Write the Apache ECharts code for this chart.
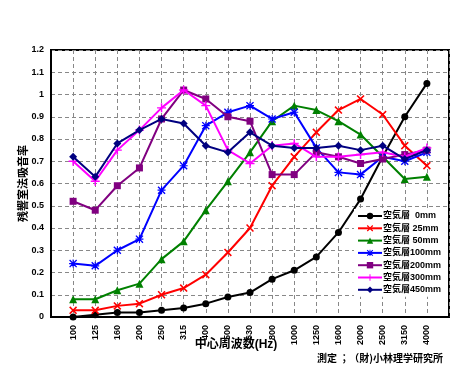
<!DOCTYPE html>
<html><head><meta charset="utf-8">
<script src="https://cdn.jsdelivr.net/npm/echarts@6/dist/echarts.min.js"></script>
<style>html,body{margin:0;padding:0;background:#fff}#c{width:473px;height:370px}</style>
</head><body><div id="c"></div>
<script>
const categories = ['100','125','160','200','250','315','400','500','630','800','1000','1250','1600','2000','2500','3150','4000'];
const mm0   = [0, 0.01, 0.02, 0.02, 0.03, 0.04, 0.06, 0.09, 0.11, 0.17, 0.21, 0.27, 0.38, 0.53, 0.72, 0.90, 1.05];
const mm25  = [0.03, 0.03, 0.05, 0.06, 0.10, 0.13, 0.19, 0.29, 0.40, 0.59, 0.72, 0.83, 0.93, 0.98, 0.91, 0.77, 0.68];
const mm50  = [0.08, 0.08, 0.12, 0.15, 0.26, 0.34, 0.48, 0.61, 0.74, 0.88, 0.95, 0.93, 0.88, 0.82, 0.72, 0.62, 0.63];
const mm100 = [0.24, 0.23, 0.30, 0.35, 0.57, 0.68, 0.86, 0.92, 0.95, 0.89, 0.92, 0.76, 0.65, 0.64, 0.72, 0.70, 0.74];
const mm200 = [0.52, 0.48, 0.59, 0.67, 0.89, 1.02, 0.98, 0.90, 0.88, 0.64, 0.64, 0.74, 0.72, 0.69, 0.71, 0.73, 0.75];
const mm300 = [0.70, 0.61, 0.75, 0.84, 0.94, 1.02, 0.95, 0.75, 0.69, 0.77, 0.78, 0.72, 0.72, 0.73, 0.74, 0.72, 0.76];
const mm450 = [0.72, 0.63, 0.78, 0.84, 0.89, 0.87, 0.77, 0.74, 0.83, 0.77, 0.76, 0.76, 0.77, 0.75, 0.77, 0.71, 0.75];
const seriesNames = ['空気層  0mm','空気層 25mm','空気層 50mm','空気層100mm','空気層200mm','空気層300mm','空気層450mm'];

const CJK = '"Noto Sans CJK JP", "Liberation Sans", sans-serif';
const MIX = '"Liberation Sans", "Noto Sans CJK JP", sans-serif';
const LAT = '"Liberation Sans", Arial, sans-serif';
const X_SYM = 'path://M0,1.4L1.4,0L5,3.6L8.6,0L10,1.4L6.4,5L10,8.6L8.6,10L5,6.4L1.4,10L0,8.6L3.6,5Z';
const PLUS_SYM = 'path://M4.2,0H5.8V4.2H10V5.8H5.8V10H4.2V5.8H0V4.2H4.2Z';
const AST_SYM = 'path://M0,1.2L1.2,0L5,3.8L8.8,0L10,1.2L6.2,5L10,8.8L8.8,10L5,6.2L1.2,10L0,8.8L3.8,5Z M4.3,0H5.7V4.3H10V5.7H5.7V10H4.3V5.7H0V4.3H4.3Z';

const axisCats = [''].concat(categories, ['']);
function pad(arr){ return ['-'].concat(arr, ['-']); }

const defs = [
  {data: mm0,   color: '#000000', symbol: 'circle',  size: 7},
  {data: mm25,  color: '#ff0000', symbol: X_SYM,     size: 8},
  {data: mm50,  color: '#008000', symbol: 'triangle',size: 8},
  {data: mm100, color: '#0000ff', symbol: AST_SYM,   size: 8},
  {data: mm200, color: '#800080', symbol: 'rect',    size: 7},
  {data: mm300, color: '#ff00ff', symbol: PLUS_SYM,  size: 9},
  {data: mm450, color: '#000080', symbol: 'diamond', size: 8}
];

const chart = echarts.init(document.getElementById('c'), null, {renderer: 'canvas'});
chart.setOption({
  animation: false,
  backgroundColor: '#fff',
  grid: {left: 51, right: 24, top: 50, bottom: 53, show: true, borderColor: '#000', borderWidth: 2, backgroundColor: 'transparent'},
  xAxis: {
    type: 'category', data: axisCats, boundaryGap: false,
    name: '中心周波数(Hz)', nameLocation: 'middle', nameGap: 22, nameMoveOverlap: false,
    nameTextStyle: {fontFamily: MIX, fontSize: 12, fontWeight: 'bold', color: '#000', padding: [0, 28, 0, 0]},
    axisLine: {show: true, lineStyle: {color: '#000', width: 2}},
    axisTick: {show: false},
    axisLabel: {interval: 0, rotate: 90, margin: 8, fontFamily: LAT, fontSize: 9, fontWeight: 'bold', color: '#000'},
    splitLine: {show: true, interval: 0, lineStyle: {color: '#888', type: [4, 3], width: 1}}
  },
  yAxis: {
    type: 'value', min: 0, max: 1.2, interval: 0.1,
    name: '残響室法吸音率', nameLocation: 'middle', nameGap: 23, nameRotate: 90, nameMoveOverlap: false,
    nameTextStyle: {fontFamily: CJK, fontSize: 11, fontWeight: 'bold', color: '#000'},
    axisLine: {show: true, lineStyle: {color: '#000', width: 2}},
    axisTick: {show: false},
    axisLabel: {margin: 7, fontFamily: LAT, fontSize: 9, fontWeight: 'bold', color: '#000',
      formatter: v => String(Math.round(v * 10) / 10)},
    splitLine: {show: true, lineStyle: {color: '#888', type: [4, 3], width: 1}}
  },
  legend: {
    orient: 'vertical', left: 354, top: 209, padding: [2, 6, 2, 3],
    backgroundColor: '#fff', itemWidth: 24, itemHeight: 8, itemGap: 2.3,
    textStyle: {fontFamily: MIX, fontSize: 9, fontWeight: 'bold', color: '#000', padding: [0, 0, 0, -4], lineHeight: 10},
    data: seriesNames
  },
  series: defs.map((d, i) => ({
    name: seriesNames[i], type: 'line', data: pad(d.data),
    symbol: d.symbol, symbolSize: d.size, showAllSymbol: true,
    lineStyle: {color: d.color, width: 2}, itemStyle: {color: d.color},
    z: 2 + i
  })),
  graphic: [{
    type: 'text', right: 30, top: 353,
    style: {text: '測定 ；（財)小林理学研究所', font: 'bold 10px ' + CJK, fill: '#000'}
  }]
});
</script></body></html>
